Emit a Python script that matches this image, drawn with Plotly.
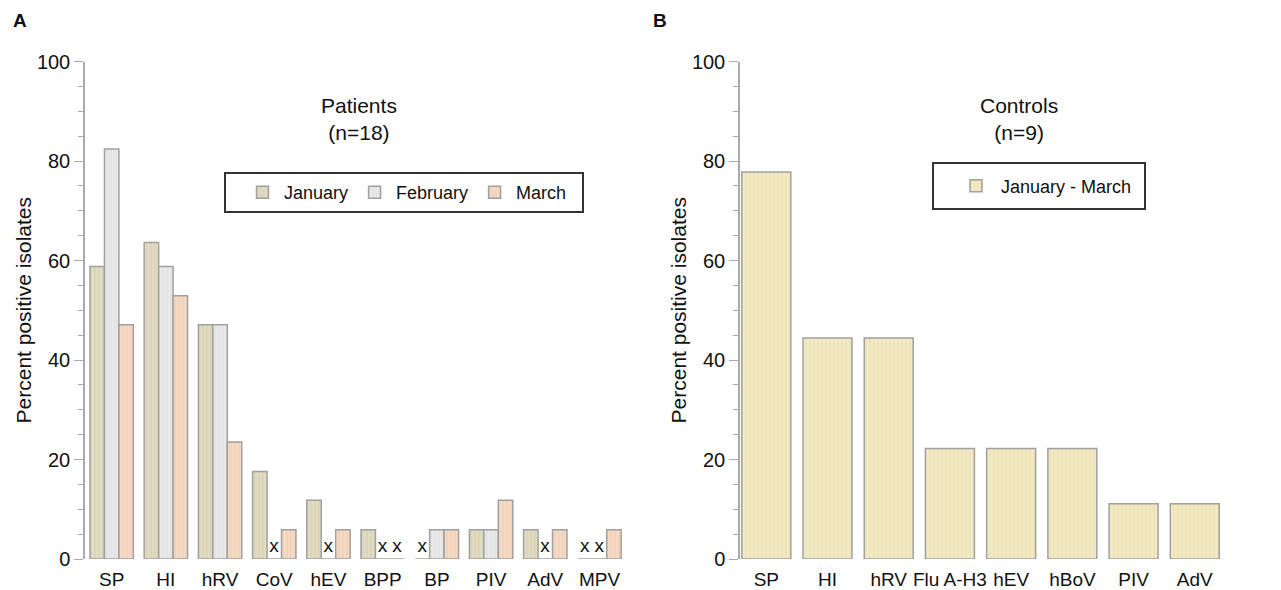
import plotly.graph_objects as go

# ---------------- data ----------------
patient_categories = ["SP", "HI", "hRV", "CoV", "hEV", "BPP", "BP", "PIV", "AdV", "MPV"]
january = [58.8, 63.6, 47.1, 17.6, 11.8, 5.9, 0, 5.9, 5.9, 0]
february = [82.4, 58.8, 47.1, 0, 0, 0, 5.9, 5.9, 0, 0]
march = [47.1, 52.9, 23.5, 5.9, 5.9, 0, 5.9, 11.8, 5.9, 5.9]

control_categories = ["SP", "HI", "hRV", "Flu A-H3", "hEV", "hBoV", "PIV", "AdV"]
controls = [77.8, 44.4, 44.4, 22.2, 22.2, 22.2, 11.1, 11.1]

y_ticks = [0, 20, 40, 60, 80, 100]

# page body has an 8px default margin -> work in window pixels and convert
OFF = 8
W, H = 1281 - OFF, 590 - OFF
FONT = "Liberation Sans, Arial, sans-serif"


def px_x(p):
    return (p - OFF) / W


def px_y(p):
    return (H - (p - OFF)) / H


fig = go.Figure()

series = [
    ("January", january, "#e0dbc1", "#d0c9a8"),
    ("February", february, "#e9e9e9", "#dadada"),
    ("March", march, "#f5d9c3", "#eac7ab"),
]
for name, vals, col, stripe in series:
    fig.add_trace(go.Bar(
        name=name,
        x=patient_categories,
        y=vals,
        xaxis="x", yaxis="y",
        marker=dict(
            color=col,
            line=dict(color="#a0a0a0", width=1.5),
            pattern=dict(shape="|", fgcolor=stripe, bgcolor=col, size=4, solidity=0.35),
        ),
        text=["x" if v == 0 else "" for v in vals],
        textposition="outside",
        textfont=dict(size=19, color="#111", family=FONT),
        cliponaxis=False,
        legend="legend",
    ))

fig.add_trace(go.Bar(
    name="January - March",
    x=control_categories,
    y=controls,
    xaxis="x2", yaxis="y2",
    marker=dict(
        color="#f3e9c3",
        line=dict(color="#a0a0a0", width=1.5),
        pattern=dict(shape="|", fgcolor="#e6d9a9", bgcolor="#f3e9c3", size=4, solidity=0.35),
    ),
    legend="legend2",
))

yaxis_common = dict(
    range=[0, 100],
    tickvals=y_ticks,
    ticks="outside",
    ticklen=9,
    tickcolor="#aaaaaa",
    tickwidth=1,
    showline=True,
    linecolor="#aaaaaa",
    linewidth=1.5,
    showgrid=False,
    zeroline=False,
    tickfont=dict(size=20, color="#111", family=FONT),
    minor=dict(dtick=5, ticks="outside", ticklen=5, tickcolor="#aaaaaa", showgrid=False),
    title=dict(text="Percent positive isolates", font=dict(size=21, color="#111", family=FONT), standoff=0),
    automargin=False,
    domain=[px_y(559), px_y(61.5)],
)

xaxis_common = dict(
    showline=False,
    ticks="",
    showgrid=False,
    zeroline=False,
    tickfont=dict(size=19, color="#111", family=FONT),
    ticklabelstandoff=7,
    automargin=False,
)

legend_common = dict(
    orientation="h",
    xanchor="left", yanchor="middle",
    borderwidth=0,
    font=dict(size=18, color="#111", family=FONT),
    bgcolor="rgba(0,0,0,0)",
)

fig.update_layout(
    width=W, height=H,
    margin=dict(l=0, r=0, t=0, b=0),
    paper_bgcolor="white",
    plot_bgcolor="white",
    barmode="group",
    bargap=0.2,
    bargroupgap=0,
    font=dict(family=FONT, color="#111"),
    xaxis=dict(domain=[px_x(85), px_x(632)], range=[-0.492, 9.6], anchor="y", **xaxis_common),
    yaxis=dict(anchor="x", **yaxis_common),
    xaxis2=dict(domain=[px_x(740), px_x(1226)], range=[-0.43, 7.51], anchor="y2", **xaxis_common),
    yaxis2=dict(anchor="x2", **yaxis_common),
    legend=dict(x=px_x(241), y=px_y(192.5), itemwidth=33, **legend_common),
    legend2=dict(x=px_x(951), y=px_y(186), itemwidth=40, **legend_common),
    showlegend=True,
)

# legend frames
for (x0, y0, x1, y1) in [(225, 173, 583, 212), (933, 163, 1145, 209)]:
    fig.add_shape(
        type="rect", xref="paper", yref="paper",
        x0=px_x(x0), x1=px_x(x1), y0=px_y(y1), y1=px_y(y0),
        line=dict(color="#333333", width=2), fillcolor="white", layer="above",
    )

annotations = [
    dict(text="<b>A</b>", x=px_x(20), y=px_y(20), size=19),
    dict(text="<b>B</b>", x=px_x(660), y=px_y(20), size=19),
    dict(text="Patients<br>(n=18)", x=px_x(359), y=px_y(119), size=21),
    dict(text="Controls<br>(n=9)", x=px_x(1019), y=px_y(119), size=21),
]
for a in annotations:
    fig.add_annotation(
        text=a["text"], x=a["x"], y=a["y"], xref="paper", yref="paper",
        xanchor="center", yanchor="middle", showarrow=False,
        font=dict(size=a["size"], color="#111", family=FONT),
    )

fig.write_html("out.html")
